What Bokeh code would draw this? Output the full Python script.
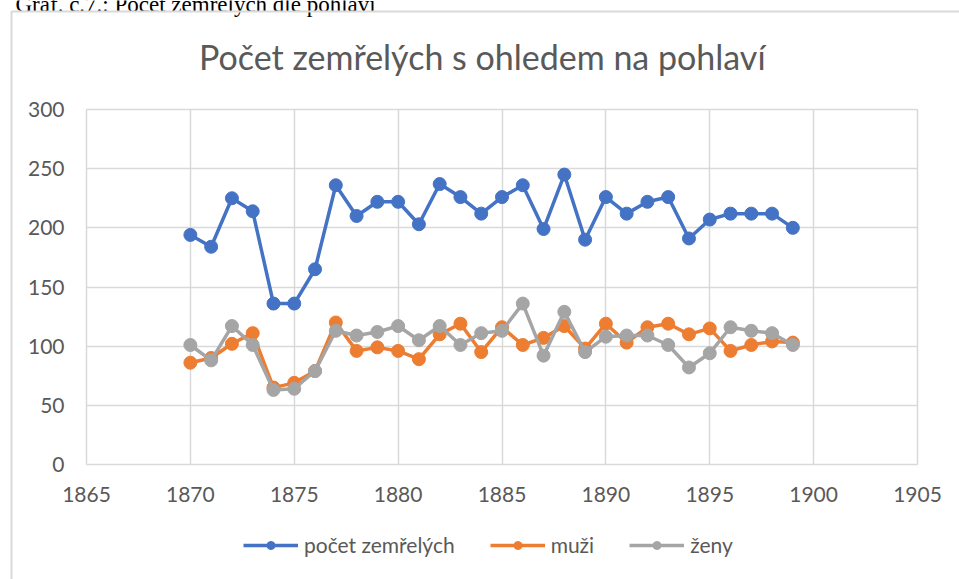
from bokeh.plotting import figure
from bokeh.models import (Legend, LegendItem, Label, BoxAnnotation, FixedTicker,
                          ColumnDataSource, Range1d)
from bokeh.embed import file_html
from bokeh.resources import INLINE

# ---- data ----
years = list(range(1870, 1900))
total = [194, 184, 225, 214, 136, 136, 165, 236, 210, 222, 222, 203, 237, 226, 212,
         226, 236, 199, 245, 190, 226, 212, 222, 226, 191, 207, 212, 212, 212, 200]
muzi = [86, 90, 102, 111, 65, 69, 79, 120, 96, 99, 96, 89, 110, 119, 95,
        116, 101, 107, 117, 98, 119, 103, 116, 119, 110, 115, 96, 101, 104, 103]
zeny = [101, 88, 117, 101, 63, 64, 79, 113, 109, 112, 117, 105, 117, 101, 111,
        113, 136, 92, 129, 95, 108, 109, 109, 101, 82, 94, 116, 113, 111, 101]
x_ticks = [1865, 1870, 1875, 1880, 1885, 1890, 1895, 1900, 1905]
y_ticks = [0, 50, 100, 150, 200, 250, 300]

series_names = ["počet zemřelých", "muži", "ženy"]
series_colors = ["#4472C4", "#ED7D31", "#A5A5A5"]
title_text = "Počet zemřelých  s ohledem  na pohlaví"
caption_text = "Graf. č.7.: Počet zemřelých dle pohlaví"

# ---- layout (pixels) ----
W, H = 959, 579
PL, PR, PT, PB = 86, 917, 109, 464   # plot area edges in pixels
X0, X1 = x_ticks[0], x_ticks[-1]
Y0, Y1 = y_ticks[0], y_ticks[-1]
kx = (PR - PL) / (X1 - X0)
ky = (PB - PT) / (Y1 - Y0)
def px_to_x(px):
    return X0 + (px - PL) / kx
def py_to_y(py):
    return Y0 + (PB - py) / ky

FONT = "Lato"
TXT = "#595959"
GRID = "#D9D9D9"

p = figure(width=W, height=H, output_backend="svg", toolbar_location=None,
           title_location=None,
           x_range=Range1d(px_to_x(0), px_to_x(W)),
           y_range=Range1d(py_to_y(H), py_to_y(0)),
           min_border=0, min_border_left=0, min_border_right=0,
           min_border_top=0, min_border_bottom=0)
p.outline_line_color = None
p.background_fill_color = "white"
p.border_fill_color = "white"

xa, ya = p.xaxis[0], p.yaxis[0]
xa.fixed_location = Y0
ya.fixed_location = X0
xa.ticker = FixedTicker(ticks=x_ticks)
ya.ticker = FixedTicker(ticks=y_ticks)
for ax in (xa, ya):
    ax.axis_line_color = None
    ax.major_tick_line_color = None
    ax.minor_tick_line_color = None
    ax.major_tick_out = 6
    ax.major_label_text_font = FONT
    ax.major_label_text_font_size = "21px"
    ax.major_label_text_color = TXT
xa.major_label_standoff = 16
ya.major_label_standoff = 16

xg, yg = p.xgrid[0], p.ygrid[0]
xg.ticker = FixedTicker(ticks=x_ticks)
yg.ticker = FixedTicker(ticks=y_ticks)
for g in (xg, yg):
    g.grid_line_color = GRID
    g.grid_line_width = 1.5

use_masks = False
try:
    xg.cross_bounds = (Y0, Y1)
    yg.cross_bounds = (X0, X1)
except Exception:
    use_masks = True

if use_masks:
    # white boxes hiding grid lines outside the plot area
    e = 0.8
    for kw in (dict(right=px_to_x(PL - e)), dict(left=px_to_x(PR + e)),
               dict(bottom=py_to_y(PT - e)), dict(top=py_to_y(PB + e))):
        m = BoxAnnotation(fill_color="white", fill_alpha=1, line_alpha=0,
                          level="underlay", **kw)
        p.add_layout(m)

items = []
for name, col, vals in zip(series_names, series_colors, [total, muzi, zeny]):
    src = ColumnDataSource(dict(x=years, y=vals))
    l = p.line("x", "y", source=src, line_color=col, line_width=3.5)
    c = p.scatter("x", "y", source=src, size=13, fill_color=col, line_color=col)
    items.append(LegendItem(label=name, renderers=[l, c]))

legend = Legend(items=items, orientation="horizontal", location=(243, 22),
                glyph_width=55, glyph_height=20, label_height=20, label_standoff=6,
                spacing=35, padding=0, margin=0,
                label_text_font=FONT, label_text_font_size="21px", label_text_color=TXT,
                border_line_color=None, background_fill_alpha=0)
p.add_layout(legend)

title = Label(x=(X0 + X1) / 2, y=Y1, x_offset=-11, y_offset=53, text=title_text,
              text_align="center", text_baseline="alphabetic", text_font=FONT,
              text_font_size="34px", text_color=TXT)
p.add_layout(title)

caption = Label(x=X0, y=Y1, x_offset=-71, y_offset=105, text=caption_text,
                text_align="left", text_baseline="alphabetic",
                text_font="Liberation Serif", text_font_size="23px", text_color="black")
p.add_layout(caption)

border = BoxAnnotation(left=px_to_x(11), top=py_to_y(11), right=px_to_x(W + 50),
                       bottom=py_to_y(H + 50), fill_alpha=0, line_color=GRID,
                       line_alpha=1, line_width=2)
p.add_layout(border)

open("out.html", "w").write(file_html(p, INLINE))
